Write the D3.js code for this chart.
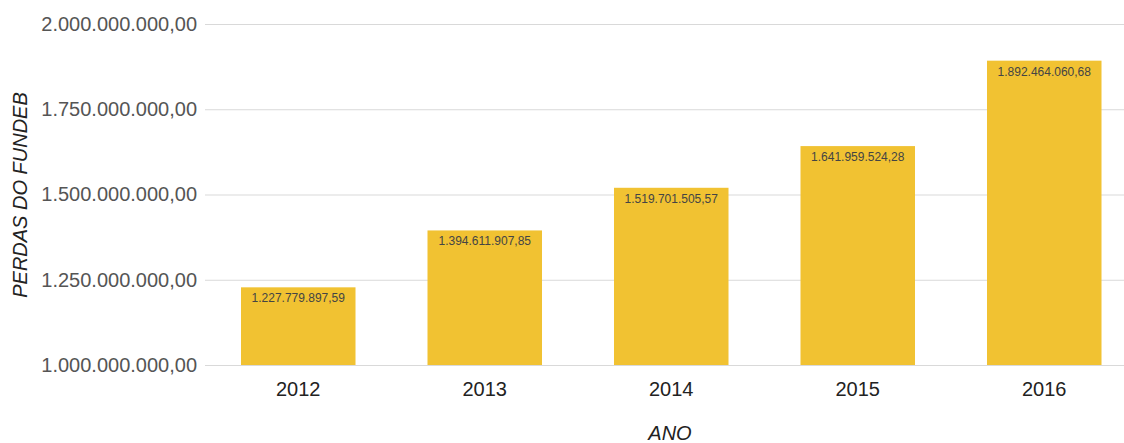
<!DOCTYPE html>
<html>
<head>
<meta charset="utf-8">
<script src="https://cdn.jsdelivr.net/npm/d3@7"></script>
<style>
  body { margin: 0; background: #fff; }
  svg { display: block; font-family: "Liberation Sans", Arial, sans-serif; }
</style>
</head>
<body>
<script>
const anos = ['2012', '2013', '2014', '2015', '2016'];
const perdas = [1227779897.59, 1394611907.85, 1519701505.57, 1641959524.28, 1892464060.68];
const yTicks = [1000000000, 1250000000, 1500000000, 1750000000, 2000000000];

const width = 1124;
const height = 443;

const br = d3.formatLocale({ decimal: ',', thousands: '.', grouping: [3], currency: ['', ''] });
const fmt = br.format(',.2f');

const svg = d3.select('body')
  .append('svg')
  .attr('width', width)
  .attr('height', height);

const x = d3.scaleBand()
  .domain(anos)
  .range([205, 1137.5])
  .paddingInner(0.386)
  .paddingOuter(0.193);

const y = d3.scaleLinear()
  .domain([1000000000, 2000000000])
  .range([365, 24]);

// gridlines + y labels
const yAxis = svg.append('g')
  .attr('transform', 'translate(205,0)')
  .call(d3.axisLeft(y).tickValues(yTicks).tickFormat(fmt).tickSize(-(width - 205)).tickPadding(8));

yAxis.select('.domain').remove();
yAxis.selectAll('.tick line').attr('stroke', '#d9d9d9');
yAxis.selectAll('.tick text')
  .attr('fill', '#555')
  .style('font-size', '20px')
  .style('font-family', '"Liberation Sans", Arial, sans-serif');

// bars
svg.append('g')
  .selectAll('rect')
  .data(perdas)
  .join('rect')
  .attr('x', (d, i) => x(anos[i]))
  .attr('y', d => y(d))
  .attr('width', x.bandwidth())
  .attr('height', d => y(1000000000) - y(d))
  .attr('fill', '#f1c232');

// value labels
svg.append('g')
  .selectAll('text')
  .data(perdas)
  .join('text')
  .attr('x', (d, i) => x(anos[i]) + x.bandwidth() / 2)
  .attr('y', d => y(d) + 15)
  .attr('text-anchor', 'middle')
  .attr('fill', '#444')
  .style('font-size', '12px')
  .text(d => fmt(d));

// x labels
const xAxis = svg.append('g')
  .attr('transform', 'translate(0,365)')
  .call(d3.axisBottom(x).tickSize(0).tickPadding(17));

xAxis.select('.domain').remove();
xAxis.selectAll('.tick text')
  .attr('fill', '#222')
  .style('font-size', '20px')
  .style('font-family', '"Liberation Sans", Arial, sans-serif');

// axis titles
svg.append('text')
  .attr('transform', 'translate(27,195) rotate(-90)')
  .attr('text-anchor', 'middle')
  .attr('fill', '#222')
  .style('font-size', '20px')
  .style('font-style', 'italic')
  .text('PERDAS DO FUNDEB');

svg.append('text')
  .attr('x', 670)
  .attr('y', 440)
  .attr('text-anchor', 'middle')
  .attr('fill', '#222')
  .style('font-size', '20px')
  .style('font-style', 'italic')
  .text('ANO');
</script>
</body>
</html>
